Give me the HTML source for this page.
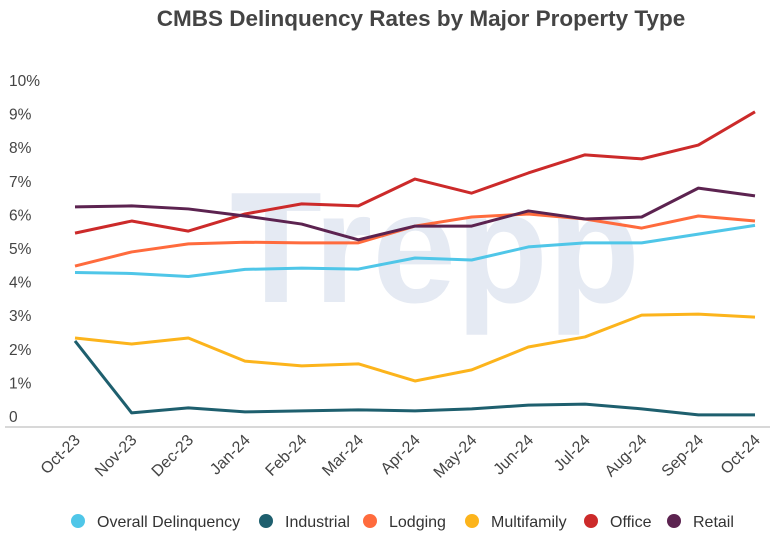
<!DOCTYPE html>
<html><head><meta charset="utf-8"><style>
body{margin:0;background:#fff;width:774px;height:542px;overflow:hidden;font-family:"Liberation Sans",sans-serif}
</style></head><body>
<svg id="c" width="774" height="542" font-family="Liberation Sans, sans-serif">
<text x="421" y="26" text-anchor="middle" font-size="22.5" font-weight="bold" fill="#444">CMBS Delinquency Rates by Major Property Type</text>
<text x="435" y="302" text-anchor="middle" font-size="158" font-weight="bold" fill="#e5eaf3" textLength="410" lengthAdjust="spacingAndGlyphs">Trepp</text>
<line x1="5" x2="770" y1="427" y2="427" stroke="#ccc" stroke-width="1.5"/>
<g id="yt"></g><g id="xt"></g><g id="series"></g><g id="legend"></g>
</svg>
<script>
const categories=["Oct-23","Nov-23","Dec-23","Jan-24","Feb-24","Mar-24","Apr-24","May-24","Jun-24","Jul-24","Aug-24","Sep-24","Oct-24"];
const yTicks=[0,1,2,3,4,5,6,7,8,9,10];
const seriesNames=["Overall Delinquency","Industrial","Lodging","Multifamily","Office","Retail"];
const seriesColors=["#4fc6e8","#1e5f6e","#ff6b3d","#fcb41c","#cc2a2a","#5c2350"];
const overall=[4.6,4.57,4.48,4.69,4.73,4.7,5.03,4.97,5.36,5.48,5.48,5.74,6.0];
const industrial=[2.56,0.42,0.57,0.45,0.48,0.51,0.48,0.54,0.65,0.68,0.54,0.36,0.36];
const lodging=[4.79,5.21,5.45,5.5,5.48,5.48,5.98,6.25,6.34,6.19,5.92,6.28,6.13];
const multifamily=[2.65,2.47,2.65,1.96,1.82,1.88,1.37,1.7,2.38,2.68,3.33,3.36,3.27];
const office=[5.77,6.13,5.83,6.34,6.64,6.58,7.38,6.96,7.56,8.1,7.98,8.39,9.38];
const retail=[6.55,6.58,6.49,6.28,6.04,5.57,5.98,5.98,6.43,6.19,6.25,7.11,6.88];
const allSeries=[overall,industrial,lodging,multifamily,office,retail];
const NS="http://www.w3.org/2000/svg";
const xS=i=>75+i*(680/(categories.length-1));
const yS=v=>427-v*33.6;
function mk(t,a,p){const e=document.createElementNS(NS,t);for(const k in a)e.setAttribute(k,a[k]);p.appendChild(e);return e;}
const yt=document.getElementById('yt');
yTicks.forEach(v=>{const t=mk('text',{x:9,y:yS(v)-5,'font-size':15.5,fill:'#444'},yt);t.textContent=v===0?'0':v+'%';

});
const xt=document.getElementById('xt');
categories.forEach((c,i)=>{const x=xS(i)+6,y=441;const t=mk('text',{x:x,y:y,'font-size':16,fill:'#444','text-anchor':'end',transform:`rotate(-45 ${x} ${y})`},xt);t.textContent=c;

});
const sg=document.getElementById('series');
allSeries.forEach((s,k)=>{const p=mk('polyline',{points:s.map((v,i)=>xS(i)+','+yS(v)).join(' '),fill:'none',stroke:seriesColors[k],'stroke-width':3,'stroke-linejoin':'round'},sg);

});
const lg=document.getElementById('legend');
const lx=[71,259,363,465,584,667];
seriesNames.forEach((n,k)=>{const g=mk('g',{},lg);


mk('circle',{cx:lx[k]+7,cy:521,r:7,fill:seriesColors[k]},g);
const t=mk('text',{x:lx[k]+26,y:527,'font-size':16,fill:'#333'},g);t.textContent=n;});
</script>
</body></html>
